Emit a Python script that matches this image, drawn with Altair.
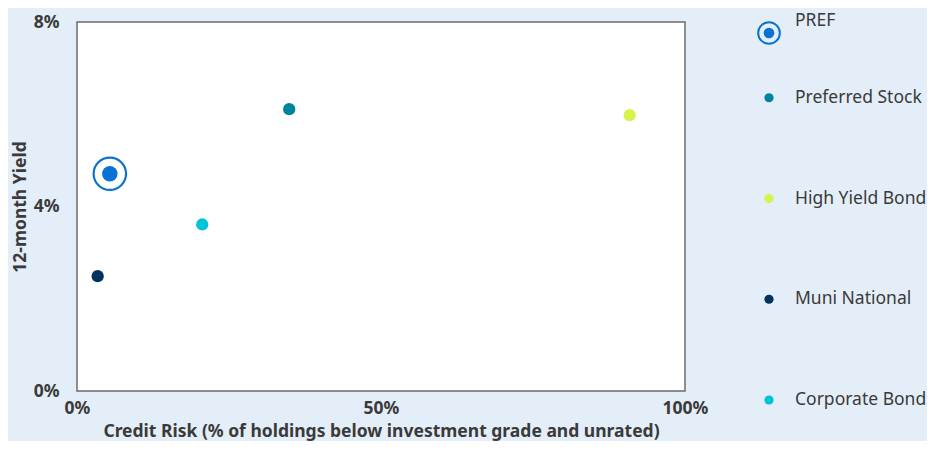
import altair as alt
import pandas as pd

series = ["PREF", "Preferred Stock", "High Yield Bond", "Muni National", "Corporate Bond"]
credit_risk = [5.4, 34.9, 90.9, 3.4, 20.6]
yield_12m = [4.71, 6.11, 5.98, 2.49, 3.61]
colors = ["#0a72d0", "#00839c", "#d9f24c", "#00335f", "#00c3d8"]
x_ticks = [0, 50, 100]
y_ticks = [0, 4, 8]

df = pd.DataFrame({"Series": series, "Credit": credit_risk, "Yield": yield_12m})

FONT = "Noto Sans"
TXT = "#3a3a3a"
FS = 17.5
color_scale = alt.Scale(domain=series, range=colors)
col = alt.Color("Series:N", scale=color_scale, legend=None)

x_enc = alt.X(
    "Credit:Q",
    scale=alt.Scale(domain=[0, 100], nice=False),
    axis=alt.Axis(values=x_ticks, labelExpr="datum.value + '%'", labelFlush=False,
                  title="Credit Risk (% of holdings below investment grade and unrated)",
                  labelPadding=8, titlePadding=6),
)
y_enc = alt.Y(
    "Yield:Q",
    scale=alt.Scale(domain=[0, 8], nice=False),
    axis=alt.Axis(values=y_ticks, labelExpr="datum.value + '%'",
                  title="12-month Yield", labelPadding=18, titlePadding=4),
)

base = alt.Chart(df)
others = base.transform_filter(alt.datum.Series != "PREF").mark_circle(
    size=150, opacity=1).encode(x=x_enc, y=y_enc, color=col)
pref = base.transform_filter(alt.datum.Series == "PREF")
pref_dot = pref.mark_circle(size=240, opacity=1).encode(x=x_enc, y=y_enc, color=col)
pref_ring = pref.mark_point(shape="circle", size=1050, filled=False, strokeWidth=2.2,
                            opacity=1).encode(x=x_enc, y=y_enc, color=col)

main = alt.layer(others, pref_ring, pref_dot).properties(
    width=608, height=369,
    view=alt.ViewBackground(fill="white", stroke="#6b6b6b", strokeWidth=1.5),
)

# legend: rows spaced evenly, the PREF row nudged down to sit at the top of the plot
leg_y = alt.Y("Series:N", sort=series,
              scale=alt.Scale(domain=series, type="point", padding=0, range=[-25, 378]),
              axis=None)
leg = alt.Chart(df)
leg_others = leg.transform_filter(alt.datum.Series != "PREF").mark_circle(
    size=85, opacity=1).encode(y=leg_y, color=col)
leg_pref = leg.transform_filter(alt.datum.Series == "PREF")
leg_pref_dot = leg_pref.mark_circle(size=115, opacity=1, yOffset=36).encode(y=leg_y, color=col)
leg_pref_ring = leg_pref.mark_point(shape="circle", size=470, filled=False, yOffset=36,
                                    strokeWidth=2, opacity=1).encode(y=leg_y, color=col)
leg_text = leg.transform_filter(alt.datum.Series != "PREF").mark_text(
    align="left", baseline="middle", dx=26, fontSize=17.5, font=FONT, color=TXT
).encode(y=leg_y, text="Series:N")
leg_text_pref = leg_pref.mark_text(
    align="left", baseline="middle", dx=26, dy=24, fontSize=17.5, font=FONT, color=TXT
).encode(y=leg_y, text="Series:N")

legend = alt.layer(leg_others, leg_pref_ring, leg_pref_dot, leg_text, leg_text_pref).properties(
    width=20, height=369,
    view=alt.ViewBackground(fill="transparent", stroke="transparent"),
)

chart = alt.hconcat(main, legend, spacing=74, bounds="flush").properties(
    background="#e4eef8",
    padding={"left": 2, "top": 3, "right": 0, "bottom": 0},
).configure_axis(
    grid=False, ticks=False, domain=False,
    labelFont=FONT, labelFontSize=FS, labelFontWeight="bold", labelColor=TXT,
    titleFont=FONT, titleFontSize=FS, titleFontWeight="bold", titleColor=TXT,
)

chart.save("out.html", embed_options={"renderer": "svg", "actions": False})
